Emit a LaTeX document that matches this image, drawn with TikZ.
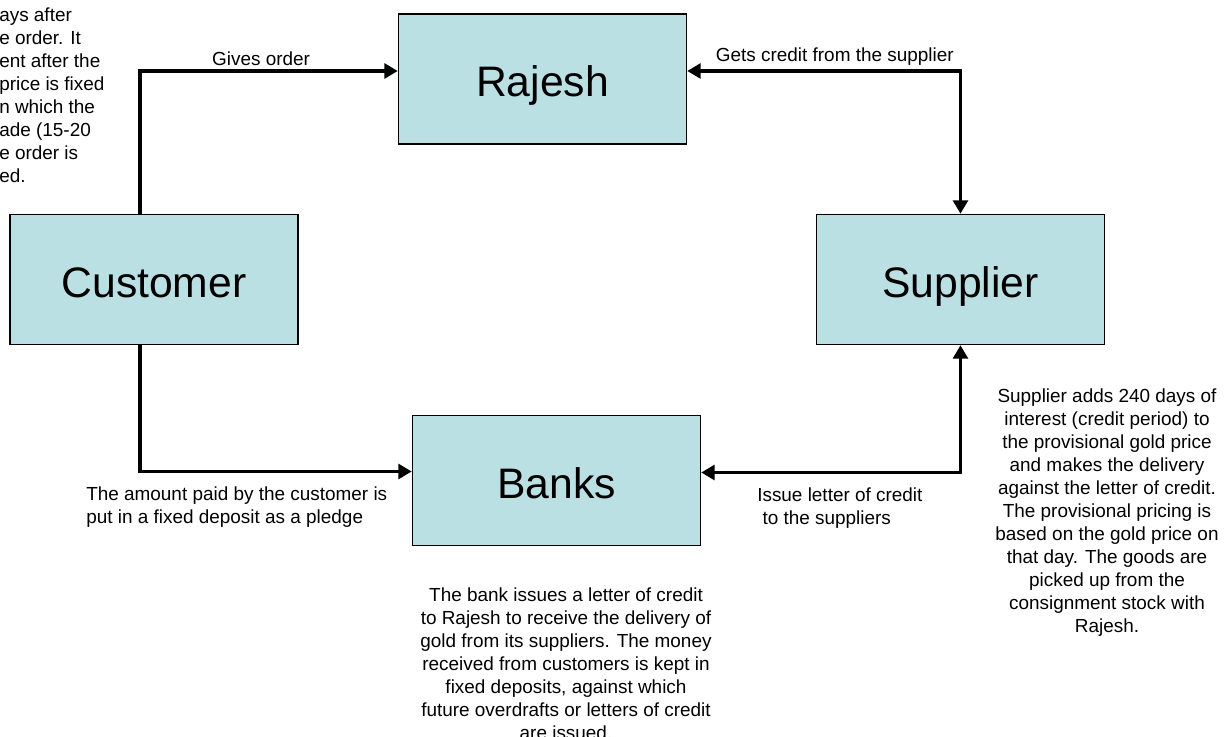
\documentclass[tikz,border=0pt]{standalone}
\usepackage{fontspec}
\setmainfont{Liberation Sans}
\usepackage{tikz}
\usetikzlibrary{arrows.meta, positioning, calc}
\definecolor{boxblue}{RGB}{187, 224, 227}

\begin{document}
\begin{tikzpicture}[x=0.75pt, y=-0.75pt,
    box/.style={rectangle, draw=black, fill=boxblue, line width=1.1pt, minimum width=216pt, minimum height=97.5pt, inner sep=0pt, text height=27pt, text depth=0pt, font=\fontsize{32}{38}\selectfont},
    note/.style={inner sep=0pt, font=\fontsize{14.2}{17.25}\selectfont},
    arrow/.style={-{Triangle[length=10pt, width=11pt]}, line width=2.5pt},
    biarrow/.style={{Triangle[length=10pt, width=11pt]}-{Triangle[length=10pt, width=11pt]}, line width=2.5pt}
]
\useasboundingbox (0,0) rectangle (1225,737);

\node (Rajesh)   [box] at (542.5,79) {Rajesh};
\node (Customer) [box] at (154,279.5) {Customer};
\node (Supplier) [box, right=387.75pt of Customer] {Supplier};
\node (Banks)    [box] at (556.5,480.5) {Banks};

% connectors
\draw [arrow] ($(Customer.north)+(-14,0)$) |- node[pos=0.735, above=3pt, note] {Gives order} ($(Rajesh.west)+(0,-8)$);
\draw [biarrow] ($(Rajesh.east)+(0,-8)$) -| node[pos=0.27, above=3pt, note] {Gets credit from the supplier} (Supplier.north);
\draw [arrow] ($(Customer.south)+(-14,0)$) |- ($(Banks.west)+(0,-9)$);
\draw [biarrow] (Supplier.south) |- ($(Banks.east)+(0,-8)$);

% notes
\node (pledge) [note, anchor=north west, align=left] at (86,487) {The amount paid by the customer is\\put in a fixed deposit as a pledge};
\node (lcissue) [note, anchor=north west, align=left] at (757,488) {Issue letter of credit\\\ to the suppliers};
\node (banknote) [note, anchor=north, align=center] at (566,588) {The bank issues a letter of credit\\to Rajesh to receive the delivery of\\gold from its suppliers. The money\\received from customers is kept in\\fixed deposits, against which\\future overdrafts or letters of credit\\are issued.};
\node (suppnote) [note, anchor=north, align=center] at (1107,389) {Supplier adds 240 days of\\interest (credit period) to\\the provisional gold price\\and makes the delivery\\against the letter of credit.\\The provisional pricing is\\based on the gold price on\\that day. The goods are\\picked up from the\\consignment stock with\\Rajesh.};
\node (custnote) [note, anchor=north west, align=left] at (-1,8) {ays after\\e order. It\\ent after the\\price is fixed\\n which the\\ade (15-20\\e order is\\ed.};
\end{tikzpicture}
\end{document}
